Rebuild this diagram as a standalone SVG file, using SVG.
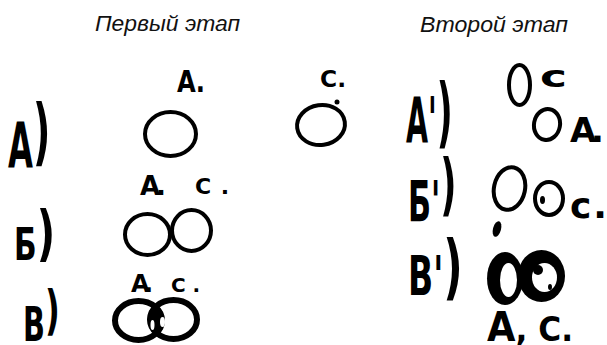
<svg xmlns="http://www.w3.org/2000/svg" width="607" height="345" viewBox="0 0 607 345">
<style>
.t{font-family:"Liberation Sans",Arial,sans-serif;font-style:italic;font-size:22px;fill:#111}
.h{font-family:"DejaVu Sans",sans-serif;font-weight:bold;fill:#000}
.o{fill:none;stroke:#000;stroke-width:4}
.ob{fill:none;stroke:#000;stroke-width:6}
</style>
<defs>
<clipPath id="clipL"><ellipse cx="138.5" cy="320.5" rx="26" ry="22"/></clipPath>
</defs>
<rect width="607" height="345" fill="#fff"/>
<g id="titles">
<text class="t" x="95" y="31" textLength="145" lengthAdjust="spacingAndGlyphs">Первый этап</text>
<text class="t" x="420" y="32" textLength="148" lengthAdjust="spacingAndGlyphs">Второй этап</text>
</g>
<g id="stage1">
<g id="rowA">
<g transform="translate(8,167) scale(0.52,1)"><text class="h" font-size="62">А<tspan font-size="73" dy="-10">)</tspan></text></g>
<text class="h" x="177" y="92" font-size="30" textLength="28" lengthAdjust="spacingAndGlyphs">А.</text>
<ellipse class="o" cx="170.5" cy="134" rx="25.5" ry="22"/>
<text class="h" x="320" y="87" font-size="23" textLength="26" lengthAdjust="spacingAndGlyphs">С.</text>
<circle cx="337" cy="102" r="2.5"/>
<ellipse class="o" cx="321" cy="125" rx="24" ry="20" transform="rotate(-8 321 125)"/>
</g>
<g id="rowB">
<g transform="translate(14,260) scale(0.66,1)"><text class="h" font-size="45">Б<tspan font-size="61" dy="-6">)</tspan></text></g>
<text class="h" x="140" y="195" font-size="26" textLength="26" lengthAdjust="spacing">А.</text>
<text class="h" x="195" y="194" font-size="22" textLength="34" lengthAdjust="spacing">С.</text>
<ellipse class="o" cx="147.5" cy="234.5" rx="22.5" ry="20.5"/>
<ellipse class="o" cx="191.5" cy="230.5" rx="19.5" ry="20.5"/>
</g>
<g id="rowV">
<g transform="translate(23,341) scale(0.6,1)"><text class="h" font-size="48">В<tspan font-size="54" dy="-12">)</tspan></text></g>
<text class="h" x="131" y="292" font-size="24" textLength="22" lengthAdjust="spacing">А.</text>
<text class="h" x="171" y="292" font-size="20" textLength="29" lengthAdjust="spacing">С.</text>
<ellipse cx="173.5" cy="319.5" rx="26" ry="22" clip-path="url(#clipL)" fill="#000"/>
<ellipse class="ob" cx="138.5" cy="320.5" rx="23.5" ry="19.5"/>
<ellipse class="ob" cx="173.5" cy="319.5" rx="23.5" ry="19.5"/>
<ellipse cx="152.5" cy="325" rx="2" ry="5" fill="#fff"/>
<ellipse cx="162.5" cy="322" rx="2.5" ry="5" fill="#fff"/>
</g>
</g>
<g id="stage2">
<g id="rowA2">
<g transform="translate(406,142) scale(0.46,1)"><text class="h" font-size="62">А'<tspan font-size="76" dy="-4">)</tspan></text></g>
<ellipse class="o" cx="519.5" cy="85" rx="10.5" ry="20"/>
<text class="h" x="540" y="87" font-size="30" textLength="27" lengthAdjust="spacingAndGlyphs">с</text>
<ellipse class="o" cx="547" cy="124.5" rx="13" ry="15.5" transform="rotate(10 547 124.5)"/>
<text class="h" x="570" y="142" font-size="34" textLength="34" lengthAdjust="spacing">А.</text>
</g>
<g id="rowB2">
<g transform="translate(408,222) scale(0.53,1)"><text class="h" font-size="57">Б'<tspan font-size="67" dy="-14">)</tspan></text></g>
<ellipse class="o" cx="509.5" cy="188.5" rx="15.5" ry="21.5" transform="rotate(12 509.5 188.5)"/>
<ellipse class="o" cx="549" cy="198.5" rx="14" ry="16.5"/>
<ellipse cx="542.5" cy="200" rx="2.5" ry="4"/>
<ellipse cx="497" cy="229" rx="4" ry="8" transform="rotate(15 497 229)"/>
<text class="h" x="570" y="218" font-size="36" textLength="37" lengthAdjust="spacing">с.</text>
</g>
<g id="rowV2">
<g transform="translate(408,295) scale(0.6,1)"><text class="h" font-size="55">В'<tspan font-size="71" dy="-4">)</tspan></text></g>
<ellipse cx="505" cy="278.5" rx="18" ry="26.5"/>
<ellipse cx="541.5" cy="276" rx="23.5" ry="26"/>
<ellipse cx="508.5" cy="280" rx="8.5" ry="17" fill="#fff"/>
<ellipse cx="544.5" cy="277.5" rx="12.5" ry="14.5" fill="#fff"/>
<ellipse cx="538" cy="270" rx="5" ry="5"/>
<ellipse cx="550" cy="287" rx="2" ry="3"/>
<text class="h" x="487" y="341" font-size="34" textLength="86" lengthAdjust="spacingAndGlyphs"><tspan font-size="40">А</tspan>, С.</text>
</g>
</g>
</svg>
